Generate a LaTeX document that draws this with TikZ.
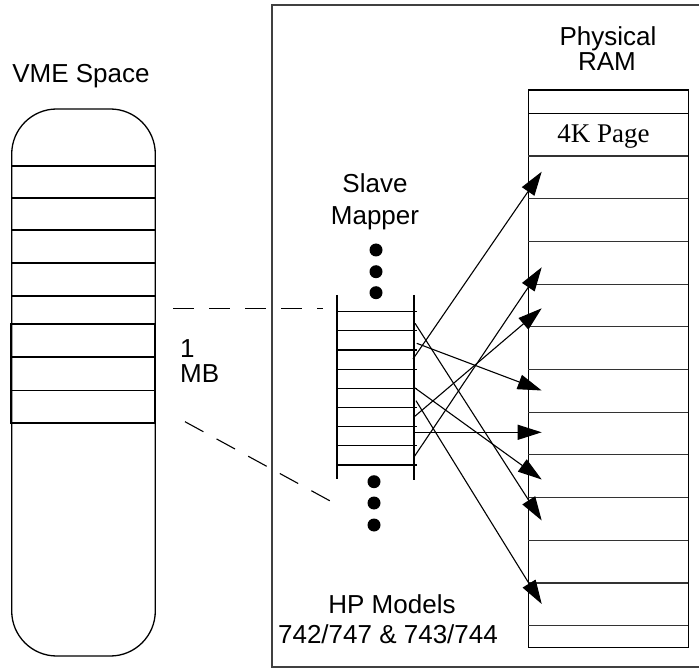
\documentclass[tikz,border=0pt]{standalone}
\usepackage{fontspec}
\setmainfont{Liberation Serif}
\newfontfamily\lab{Liberation Sans}
\usetikzlibrary{arrows.meta}
\begin{document}
\begin{tikzpicture}[x=1pt,y=-1pt,
  thin line/.style={line width=1.1pt},
  lbl/.style={font=\lab\fontsize{26}{30}\selectfont, inner sep=0pt},
  serif lbl/.style={font=\rmfamily\fontsize{27}{30}\selectfont, inner sep=0pt},
  arr/.style={line width=1.1pt,-{Triangle[length=24pt,width=15pt]}},
  dashline/.style={line width=1.1pt, dash pattern=on 21pt off 15pt},
  dotnode/.style={circle, fill, inner sep=0pt, minimum size=13pt}]
\useasboundingbox (0,0) rectangle (699,668);

% outer frame
\draw[line width=1.2pt, black!75] (699,5) -- (272,5) -- (272,667) -- (699,667);

% VME space column
\node[lbl, anchor=base] (vmelbl) at (81,83) {VME Space};
\node[draw, line width=1.3pt, rounded corners=45pt, minimum width=143.6pt,
      minimum height=547pt, inner sep=0pt] (vme) at (83.5,382.5) {};
\foreach \yy in {166,198,230,263,296}
  \draw[line width=1.3pt] (11.7,\yy) -- (155.3,\yy);
\node[draw, line width=1.4pt, minimum width=144pt, minimum height=99pt,
      inner sep=0pt] (mb) at (83,373.5) {};
\draw[line width=1.4pt] (11,357) -- (155,357);
\draw[line width=1.4pt] (11,390.5) -- (155,390.5);
\node[lbl, anchor=base west] (one) at (180,358) {1};
\node[lbl, anchor=base west] (mbl) at (180,382) {MB};

% dashed mapping lines
\coordinate (d1a) at (173,308.3);
\coordinate (d1b) at (323,308.3);
\coordinate (d2a) at (185,421.7);
\coordinate (d2b) at (335.7,504);
\draw[dashline] (d1a) -- (d1b);
\draw[dashline] (d2a) -- (d2b);

% slave mapper
\node[lbl, anchor=base] (slave) at (375,192.7) {Slave};
\node[lbl, anchor=base] (mapper) at (375,225) {Mapper};
\node[dotnode] (dt1) at (376,250) {};
\node[dotnode] (dt2) at (376,271.7) {};
\node[dotnode] (dt3) at (376,292.7) {};
\node[dotnode] (db1) at (374,481.7) {};
\node[dotnode] (db2) at (374,503) {};
\node[dotnode] (db3) at (374,525) {};
\draw[thin line] (337,295) -- (337,479);
\draw[thin line] (414,295) -- (414,480);
\foreach \i in {0,...,8}
  \draw[thin line] (337,311.7+\i*19.16) -- (417,311.7+\i*19.16);

% physical RAM
\node[lbl, anchor=base] (phys) at (608,46) {Physical};
\node[lbl, anchor=base] (ram) at (607,71) {RAM};
\node[draw, line width=1.2pt, minimum width=160pt, minimum height=557.3pt,
      inner sep=0pt] (ramcol) at (608.3,368.65) {};
\draw[line width=1.1pt] (528.3,113.3) -- (688.3,113.3);
\foreach \k in {0,...,11}
  \draw[line width=1.1pt, black!80] (528.3,156+\k*42.7) -- (688.3,156+\k*42.7);
\node[serif lbl, anchor=base] (page) at (603.5,143) {4K Page};

% mapping arrows
\coordinate (sA) at (413,359);     \coordinate (tA) at (541.7,171.7);
\coordinate (sB) at (414,457);     \coordinate (tB) at (541.7,267.3);
\coordinate (sC) at (414,417);     \coordinate (tC) at (541.7,308.3);
\coordinate (sD) at (416.7,343.3); \coordinate (tD) at (541.7,390.5);
\coordinate (sE) at (414,432.3);   \coordinate (tE) at (541.7,432.3);
\coordinate (sF) at (414,387.3);   \coordinate (tF) at (541.7,479.5);
\coordinate (sG) at (415,323.3);   \coordinate (tG) at (541.7,520.5);
\coordinate (sH) at (416,400.7);   \coordinate (tH) at (541.7,604);
\foreach \a in {A,B,C,D,E,F,G,H}
  \draw[arr] (s\a) -- (t\a);

% model label
\node[lbl, anchor=base] (hp) at (392,613) {HP Models};
\node[lbl, anchor=base] (models) at (388,643) {742/747 \& 743/744};
\end{tikzpicture}
\end{document}
